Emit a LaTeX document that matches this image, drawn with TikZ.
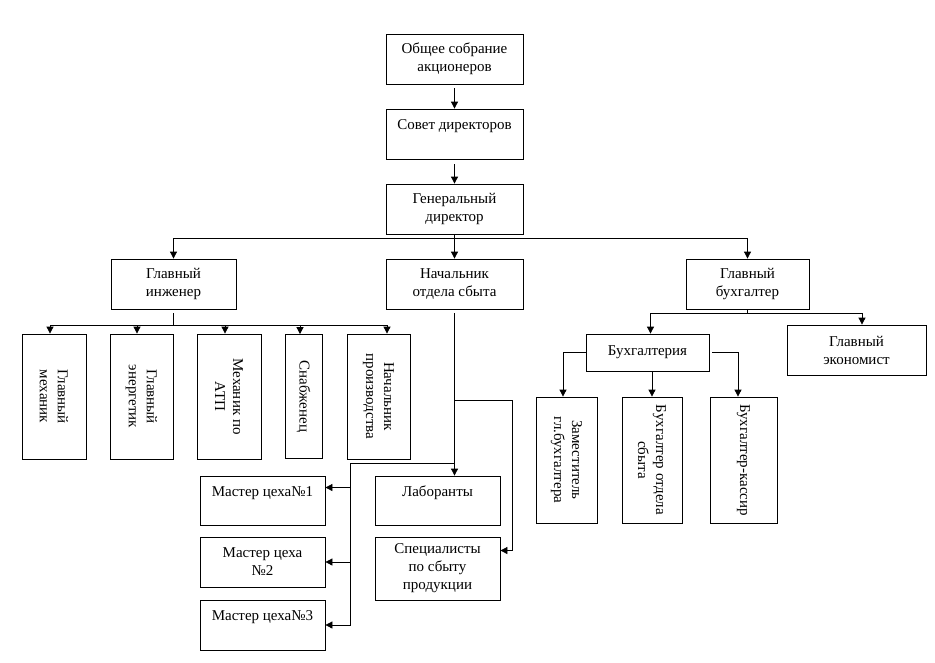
\documentclass[tikz,border=0pt]{standalone}
\usepackage{fontspec}
\setmainfont{Liberation Serif}
\usepackage{tikz}
\usetikzlibrary{shapes.geometric, arrows.meta}
\tikzstyle{block} = [rectangle, draw=black, line width=0.8pt, align=center, inner sep=2pt, minimum width=137pt, minimum height=50pt]
\tikzstyle{tall} = [rectangle, draw=black, line width=0.8pt, minimum width=64pt, minimum height=125pt]
\tikzstyle{vlabel} = [rotate=-90, align=center, inner sep=0pt]
\tikzstyle{line} = [line width=0.8pt]
\tikzstyle{arrow} = [line width=0.8pt, -{Triangle[length=7pt,width=7pt]}]

\begin{document}
\begin{tikzpicture}[node distance=75pt, font=\fontsize{15pt}{18pt}\selectfont]
\useasboundingbox (0,0) rectangle (935pt,-662pt);

\node (top) [block] at (454.5pt,-59pt) {Общее собрание\\акционеров};
\node (sovet) [block, below of=top] {Совет директоров\\~};
\node (gen) [block, below of=sovet] {Генеральный\\директор};
\node (sales) [block, below of=gen] {Начальник\\отдела сбыта};
\node (eng) [block, left of=sales, xshift=-206pt, minimum width=125pt] {Главный\\инженер};
\node (acc) [block, right of=sales, xshift=218pt, minimum width=123pt] {Главный\\бухгалтер};

\node (mech) [tall, below of=eng, xshift=-119.5pt, yshift=-37.5pt, label={[vlabel]center:Главный\\механик}] {};
\node (energ) [tall, right of=mech, xshift=12.5pt, minimum width=63pt, label={[vlabel]center:Главный\\энергетик}] {};
\node (atp) [tall, right of=energ, xshift=12.5pt, label={[vlabel]center:Механик по\\АТП}] {};
\node (snab) [tall, right of=atp, xshift=-0.5pt, minimum width=37pt, minimum height=124pt, label={[vlabel]center:Снабженец}] {};
\node (prod) [tall, right of=snab, minimum width=63pt, label={[vlabel]center:Начальник\\производства}] {};

\node (lab) [block, below of=sales, xshift=-17pt, yshift=-141.5pt, minimum width=125pt, minimum height=49pt] {Лаборанты\\~};
\node (spec) [block, below of=lab, yshift=7pt, minimum width=125pt, minimum height=63pt] {Специалисты\\по сбыту\\продукции};
\node (m1) [block, left of=lab, xshift=-100pt, minimum width=125pt, minimum height=49pt] {Мастер цеха№1\\~};
\node (m2) [block, below of=m1, yshift=13.5pt, minimum width=125pt] {Мастер цеха\\№2};
\node (m3) [block, below of=m2, yshift=12pt, minimum width=125pt] {Мастер цеха№3\\~};

\node (buh) [block, below of=acc, xshift=-100pt, yshift=6.5pt, minimum width=123pt, minimum height=37pt] {Бухгалтерия};
\node (econ) [block, below of=acc, xshift=109pt, yshift=9pt, minimum width=139pt] {Главный\\экономист};
\node (zam) [tall, below of=buh, xshift=-81pt, yshift=-32.5pt, minimum width=61pt, minimum height=126pt, label={[vlabel]center:Заместитель\\гл.бухгалтера}] {};
\node (buhsb) [tall, right of=zam, xshift=10.5pt, minimum width=60pt, minimum height=126pt, label={[vlabel]center:Бухгалтер отдела\\сбыта}] {};
\node (kassir) [tall, right of=buhsb, xshift=16.5pt, minimum width=67pt, minimum height=126pt, label={[vlabel]center:Бухгалтер-кассир}] {};

\draw [arrow] ([yshift=-4pt]top.south) -- (sovet.north);
\draw [arrow] ([yshift=-5pt]sovet.south) -- (gen.north);
\draw [arrow] (gen.south) -- (sales.north);
\draw [arrow] ([yshift=-4pt]gen.south) -| (eng.north);
\draw [arrow] ([yshift=-4pt]gen.south) -| (acc.north);

\draw [line] ([yshift=-4pt]eng.south) -- ([yshift=-16pt]eng.south);
\draw [arrow] ([yshift=-16pt]eng.south) -| ([xshift=-4pt]mech.north);
\draw [arrow] ([yshift=-16pt]eng.south) -| ([xshift=-4.5pt]energ.north);
\draw [arrow] ([yshift=-16pt]eng.south) -| ([xshift=-4pt]atp.north);
\draw [arrow] ([yshift=-16pt]eng.south) -| ([xshift=-3.5pt]snab.north);
\draw [arrow] ([yshift=-16pt]eng.south) -| ([xshift=8.5pt]prod.north);

\draw [arrow] ([yshift=-4pt]sales.south) -- (sales.south |- lab.north);
\draw [arrow] ([yshift=-91pt]sales.south) -| ([xshift=12pt,yshift=18pt]spec.east) -- ([yshift=18pt]spec.east);
\draw [arrow] ([yshift=-154pt]sales.south) -| ([xshift=25pt]m3.east) -- (m3.east);
\draw [arrow] ([xshift=25pt]m2.east) -- (m2.east);
\draw [arrow] ([xshift=25pt,yshift=13pt]m1.east) -- ([yshift=13pt]m1.east);

\draw [line] (acc.south) -- ([yshift=-4pt]acc.south);
\draw [arrow] ([yshift=-4pt]acc.south) -| ([xshift=3pt]buh.north);
\draw [arrow] ([yshift=-4pt]acc.south) -| ([xshift=5.5pt]econ.north);
\draw [arrow] (buh.west) -| ([xshift=-3.5pt]zam.north);
\draw [arrow] (buhsb.north |- buh.south) -- (buhsb.north);
\draw [arrow] ([xshift=3pt]buh.east) -| ([xshift=-5.5pt]kassir.north);

\end{tikzpicture}
\end{document}
